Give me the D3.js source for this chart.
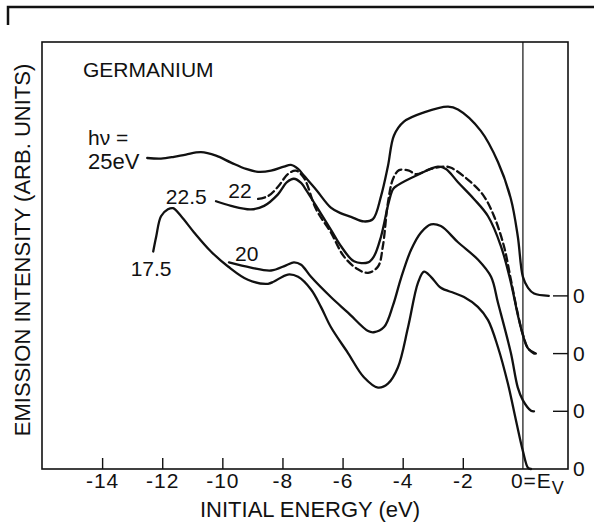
<!DOCTYPE html>
<html>
<head>
<meta charset="utf-8">
<script src="https://cdn.jsdelivr.net/npm/d3@7"></script>
<style>
  html, body { margin: 0; padding: 0; background: #fff; }
  svg { display: block; }
  text { font-family: "Liberation Sans", Arial, sans-serif; fill: #111; }
</style>
</head>
<body>
<svg id="chart" width="594" height="527"></svg>
<script>
// Energy-distribution curves of photoemitted electrons from germanium,
// each spectrum shifted upward by its own baseline offset.

const xTicks = [-14, -12, -10, -8, -6, -4, -2];
const baselineOffsets = [0, 1, 2, 3];

// hv = 25 eV  (baseline 3)
const energy25 = [-12.50, -12.04, -11.61, -11.21, -10.71, -10.21, -9.71, -9.21, -8.81, -8.38, -7.95, -7.72, -7.48, -7.28, -6.88, -6.39, -6.05, -5.72, -5.29, -4.99, -4.72, -4.49, -4.29, -3.96, -3.29, -2.49, -2.16, -1.40, -0.83, -0.40, -0.17, 0, 0.17, 0.37, 0.86];
const intensity25 = [2.39, 2.38, 2.41, 2.45, 2.49, 2.43, 2.31, 2.20, 2.15, 2.17, 2.24, 2.27, 2.20, 2.08, 1.84, 1.53, 1.43, 1.37, 1.29, 1.33, 1.73, 2.25, 2.78, 3.02, 3.18, 3.28, 3.23, 2.86, 2.32, 1.68, 1.03, 0.33, 0.14, 0.04, 0.0];

// hv = 22.5 eV  (baseline 2)
const energy225 = [-10.21, -9.71, -9.05, -8.61, -8.15, -7.85, -7.62, -7.38, -7.28, -6.88, -6.39, -6.05, -5.62, -5.15, -4.96, -4.72, -4.46, -4.32, -4.16, -3.49, -2.83, -2.56, -2.16, -1.63, -1.16, -0.73, -0.40, -0.17, 0, 0.17, 0.43];
const intensity225 = [2.64, 2.56, 2.50, 2.56, 2.76, 2.97, 3.03, 2.96, 2.89, 2.56, 2.15, 1.86, 1.60, 1.58, 1.68, 2.03, 2.63, 2.85, 2.92, 3.10, 3.24, 3.20, 2.97, 2.68, 2.38, 1.86, 1.23, 0.67, 0.32, 0.09, 0.0];

// hv = 22 eV  (baseline 2, dashed)
const energy22 = [-8.81, -8.48, -8.15, -7.82, -7.55, -7.28, -6.88, -6.39, -5.95, -5.49, -5.15, -4.82, -4.66, -4.49, -4.32, -4.12, -3.79, -3.56, -3.06, -2.63, -2.39, -1.73, -1.30, -0.96, -0.63, -0.40, -0.17, 0, 0.17, 0.37];
const intensity22 = [2.68, 2.73, 2.89, 3.11, 3.17, 3.04, 2.50, 2.10, 1.68, 1.46, 1.40, 1.51, 1.86, 2.62, 3.03, 3.18, 3.17, 3.11, 3.20, 3.24, 3.22, 2.97, 2.73, 2.38, 1.86, 1.28, 0.69, 0.33, 0.09, 0.0];

// hv = 20 eV  (baseline 1)
const energy20 = [-9.78, -9.05, -8.38, -7.88, -7.62, -7.38, -7.05, -6.39, -5.82, -5.15, -4.96, -4.62, -4.32, -4.06, -3.72, -3.39, -3.06, -2.73, -2.16, -1.50, -1.06, -0.83, -0.40, -0.17, 0, 0.27, 0.37];
const intensity20 = [2.58, 2.49, 2.44, 2.53, 2.58, 2.54, 2.33, 1.98, 1.71, 1.39, 1.37, 1.46, 1.84, 2.30, 2.80, 3.10, 3.24, 3.21, 2.93, 2.63, 2.33, 1.88, 1.01, 0.41, 0.19, 0.01, 0.0];

// hv = 17.5 eV  (baseline 0)
const energy175 = [-12.30, -12.20, -12.04, -11.81, -11.64, -11.37, -10.94, -10.38, -9.81, -9.15, -8.48, -8.28, -7.82, -7.48, -7.05, -6.72, -6.39, -5.82, -5.29, -4.82, -4.49, -4.16, -3.82, -3.49, -3.29, -3.06, -2.73, -2.29, -1.96, -1.50, -1.16, -0.83, -0.50, -0.23, 0, 0.17, 0.27];
const intensity175 = [3.77, 4.03, 4.38, 4.50, 4.52, 4.38, 4.10, 3.77, 3.51, 3.28, 3.21, 3.25, 3.37, 3.33, 3.11, 2.81, 2.46, 2.01, 1.59, 1.41, 1.48, 1.76, 2.46, 3.23, 3.42, 3.33, 3.14, 3.05, 2.98, 2.81, 2.58, 2.11, 1.48, 0.84, 0.31, 0.02, 0.0];

const series = [
  { energy: energy25,  intensity: intensity25,  offset: 3, dashed: false },
  { energy: energy225, intensity: intensity225, offset: 2, dashed: false },
  { energy: energy22,  intensity: intensity22,  offset: 2, dashed: true },
  { energy: energy20,  intensity: intensity20,  offset: 1, dashed: false },
  { energy: energy175, intensity: intensity175, offset: 0, dashed: false }
];

const svg = d3.select("#chart");
const x = d3.scaleLinear().domain([-16, 1.5]).range([42, 568]);
const y = d3.scaleLinear().domain([0, 7.4]).range([469, 42]);

// corner bracket above the plot
svg.append("path")
  .attr("d", "M8,25V7H594")
  .attr("fill", "none").attr("stroke", "#111").attr("stroke-width", 2.5);

// plot frame
svg.append("rect")
  .attr("x", x.range()[0]).attr("y", y.range()[1])
  .attr("width", x.range()[1] - x.range()[0])
  .attr("height", y.range()[0] - y.range()[1])
  .attr("fill", "none").attr("stroke", "#111").attr("stroke-width", 1.6);

// valence band maximum
svg.append("line")
  .attr("x1", x(0)).attr("x2", x(0))
  .attr("y1", y.range()[1]).attr("y2", y.range()[0])
  .attr("stroke", "#111").attr("stroke-width", 1.2);

// bottom axis with inward ticks
const xAxis = d3.axisBottom(x).tickValues(xTicks).tickSize(-11).tickPadding(4)
  .tickFormat(d => String(d));
const gx = svg.append("g").attr("transform", `translate(0,${y(0)})`).call(xAxis);
gx.select(".domain").remove();
gx.selectAll(".tick line").attr("stroke", "#111").attr("stroke-width", 1.4);
gx.selectAll(".tick text")
  .attr("font-family", "Liberation Sans, Arial, sans-serif")
  .attr("font-size", 21).attr("letter-spacing", 1).attr("fill", "#111");

const ev = svg.append("text")
  .attr("x", x(0) - 12).attr("y", y(0) + 19)
  .attr("font-size", 21).attr("letter-spacing", 1);
ev.append("tspan").text("0=E");
ev.append("tspan").attr("dy", 6).attr("font-size", 18).text("V");

// baseline markers on the right edge
baselineOffsets.filter(k => k > 0).forEach(k => {
  svg.append("line")
    .attr("x1", x.range()[1] - 15).attr("x2", x.range()[1])
    .attr("y1", y(k)).attr("y2", y(k))
    .attr("stroke", "#111").attr("stroke-width", 1.4);
});
baselineOffsets.forEach(k => {
  svg.append("text")
    .attr("x", x.range()[1] + 5).attr("y", y(k) + 7)
    .attr("font-size", 21).text("0");
});

// spectra
const line = d3.line()
  .x(d => x(d[0]))
  .y(d => y(d[1]))
  .curve(d3.curveCatmullRom.alpha(0.5));

series.forEach(s => {
  const pts = s.energy.map((e, i) => [e, s.intensity[i] + s.offset]);
  svg.append("path")
    .attr("d", line(pts))
    .attr("fill", "none")
    .attr("stroke", "#111")
    .attr("stroke-width", 2.3)
    .attr("stroke-linecap", "round")
    .attr("stroke-dasharray", s.dashed ? "7,4" : null);
});

// annotations
const note = (txt, ex, iy, size) => svg.append("text")
  .attr("x", x(ex)).attr("y", y(iy))
  .attr("font-size", size || 21)
  .text(txt);

note("GERMANIUM", -14.64, 6.79);
note("hν =", -14.47, 5.62);
note("25eV", -14.47, 5.20, 22);
note("22.5", -11.88, 4.6);
note("22", -9.8, 4.7);
note("20", -9.58, 3.6);
note("17.5", -13.05, 3.34);

// axis titles
svg.append("text")
  .attr("x", 310).attr("y", 517)
  .attr("text-anchor", "middle").attr("font-size", 22)
  .text("INITIAL ENERGY (eV)");

svg.append("text")
  .attr("transform", `translate(30,250) rotate(-90)`)
  .attr("text-anchor", "middle").attr("font-size", 22)
  .text("EMISSION INTENSITY (ARB. UNITS)");
</script>
</body>
</html>
